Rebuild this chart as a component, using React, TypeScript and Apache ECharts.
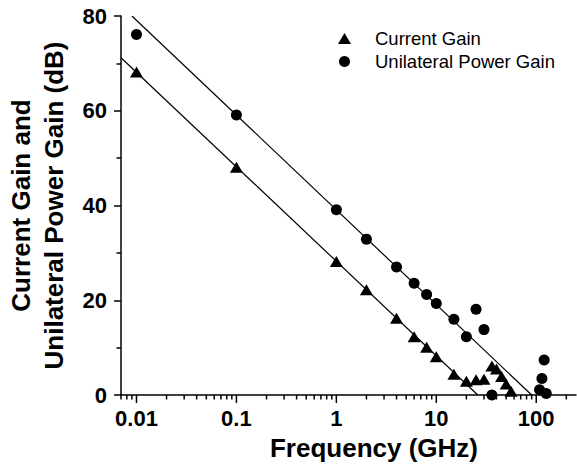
import { useEffect, useRef } from 'react';
import * as echarts from 'echarts';

// Current gain (triangles)
const currentFreq = [0.01, 0.1, 1, 2, 4, 6, 8, 10, 15, 20, 25, 30, 36, 40, 45, 50, 56];
const currentGain = [68.2, 48.1, 28.2, 22.2, 16.2, 12.3, 10.1, 8.1, 4.4, 2.9, 3.2, 3.3, 6.1, 5.5, 3.9, 2.3, 0.8];
// Unilateral power gain (circles)
const powerFreq = [0.01, 0.1, 1, 2, 4, 6, 8, 10, 15, 20, 25, 30, 36, 108, 114, 120, 126];
const powerGain = [76.1, 59.1, 39.1, 32.9, 27.0, 23.6, 21.2, 19.3, 16.0, 12.3, 18.1, 13.8, 0, 1.1, 3.5, 7.4, 0.3];
// -20 dB/decade fit lines (endpoints)
const currentFitFreq = [0.007, 26];
const currentFitGain = [71.2, 0];
const powerFitFreq = [0.009, 90];
const powerFitGain = [80, 0];
// x-axis ticks
const xMajorTicks = [0.01, 0.1, 1, 10, 100];
const xMinorTicks = [
  0.007, 0.008, 0.009,
  0.02, 0.03, 0.04, 0.05, 0.06, 0.07, 0.08, 0.09,
  0.2, 0.3, 0.4, 0.5, 0.6, 0.7, 0.8, 0.9,
  2, 3, 4, 5, 6, 7, 8, 9,
  20, 30, 40, 50, 60, 70, 80, 90,
  200,
];

const FONT = '"Liberation Sans", Arial, Helvetica, sans-serif';

function tickSeries(values: number[], len: number) {
  return {
    type: 'custom',
    silent: true,
    clip: false,
    z: 5,
    encode: { x: 0, y: 1 },
    data: values.map((v) => [v, 0]),
    renderItem: (_p: any, api: any) => {
      const pt = api.coord([api.value(0), 0]);
      return {
        type: 'line',
        shape: { x1: pt[0], y1: pt[1], x2: pt[0], y2: pt[1] + len },
        style: { stroke: '#000', lineWidth: 1.5 },
      };
    },
  };
}

export default function App() {
  const ref = useRef<HTMLDivElement>(null);
  useEffect(() => {
    if (!ref.current) return;
    const chart = echarts.init(ref.current, null, { renderer: 'svg' });
    chart.setOption({
      animation: false,
      backgroundColor: '#fff',
      grid: { left: 121, top: 16, right: 1, bottom: 70, outerBoundsMode: 'none', containLabel: false },
      legend: {
        orient: 'vertical',
        left: 333,
        top: 23,
        itemWidth: 13,
        itemHeight: 11,
        itemGap: 2,
        data: [
          { name: 'Current Gain', icon: 'triangle', itemStyle: { color: '#000', opacity: 1 } },
          { name: 'Unilateral Power Gain', icon: 'circle', itemStyle: { color: '#000', opacity: 1 } },
        ],
        textStyle: { fontFamily: FONT, fontSize: 18.5, color: '#000', lineHeight: 21, padding: [0, 0, 0, 19] },
      },
      xAxis: {
        type: 'log',
        logBase: 10,
        min: 0.007,
        max: 250,
        name: 'Frequency (GHz)',
        nameLocation: 'middle',
        nameGap: 40,
        nameTextStyle: { fontFamily: FONT, fontSize: 26, fontWeight: 'bold', color: '#000', padding: [0, 0, 0, 51] },
        axisLine: { show: true, onZero: false, lineStyle: { color: '#000', width: 1.5 } },
        axisTick: { show: false },
        minorTick: { show: false },
        splitLine: { show: false },
        axisLabel: {
          margin: 12,
          showMinLabel: false,
          showMaxLabel: false,
          fontFamily: FONT,
          fontSize: 22,
          fontWeight: 'bold',
          color: '#000',
          formatter: (v: number) => String(parseFloat(Number(v).toPrecision(6))),
        },
      },
      yAxis: {
        type: 'value',
        min: 0,
        max: 80,
        interval: 20,
        name: 'Current Gain and\nUnilateral Power Gain (dB)',
        nameLocation: 'middle',
        nameGap: 51,
        nameTextStyle: { fontFamily: FONT, fontSize: 26, fontWeight: 'bold', color: '#000', lineHeight: 33 },
        axisLine: { show: true, lineStyle: { color: '#000', width: 1.5 } },
        axisTick: { show: true, length: 7, lineStyle: { color: '#000', width: 1.5 } },
        minorTick: { show: true, splitNumber: 2, length: 4.5, lineStyle: { color: '#000', width: 1.5 } },
        splitLine: { show: false },
        axisLabel: { margin: 14, fontFamily: FONT, fontSize: 22, fontWeight: 'bold', color: '#000' },
      },
      series: [
        {
          name: 'fitCurrent',
          type: 'line',
          data: currentFitFreq.map((f, i) => [f, currentFitGain[i]]),
          symbol: 'none',
          lineStyle: { color: '#000', width: 1.2 },
          silent: true,
          z: 1,
        },
        {
          name: 'fitPower',
          type: 'line',
          data: powerFitFreq.map((f, i) => [f, powerFitGain[i]]),
          symbol: 'none',
          lineStyle: { color: '#000', width: 1.2 },
          silent: true,
          z: 1,
        },
        {
          name: 'Current Gain',
          type: 'scatter',
          symbol: 'triangle',
          symbolSize: [13, 11],
          itemStyle: { color: '#000', opacity: 1 },
          data: currentFreq.map((f, i) => [f, currentGain[i]]),
          z: 3,
        },
        {
          name: 'Unilateral Power Gain',
          type: 'scatter',
          symbol: 'circle',
          symbolSize: 11,
          itemStyle: { color: '#000', opacity: 1 },
          data: powerFreq.map((f, i) => [f, powerGain[i]]),
          z: 3,
        },
        tickSeries(xMajorTicks, 8),
        tickSeries(xMinorTicks, 4.5),
      ],
    });
    return () => chart.dispose();
  }, []);
  return <div ref={ref} style={{ position: 'fixed', left: 0, top: 0, width: 577, height: 465 }} />;
}
